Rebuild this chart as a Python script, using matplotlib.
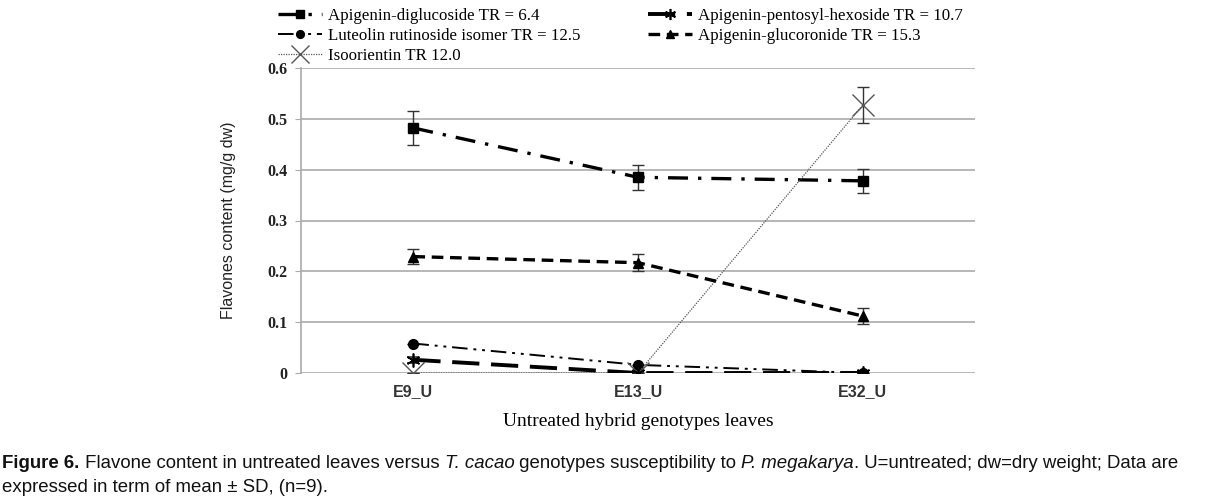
import matplotlib.pyplot as plt
from matplotlib.lines import Line2D
import numpy as np

# genotypy (kategorie na ose x)
genotypes = ["E9_U", "E13_U", "E32_U"]

# průměry a směrodatné odchylky (mg/g dw)
diglucoside = [0.482, 0.385, 0.378]
diglucoside_sd = [0.033, 0.025, 0.024]
pentosyl = [0.026, 0.0, 0.0]
pentosyl_sd = [0.006, 0.0, 0.0]
luteolin = [0.058, 0.016, 0.0]
luteolin_sd = [0.0, 0.0, 0.0]
glucoronide = [0.229, 0.217, 0.112]
glucoronide_sd = [0.015, 0.017, 0.015]
isoorientin = [0.0, 0.0, 0.527]
isoorientin_sd = [0.0, 0.0, 0.035]

yticks = [0, 0.1, 0.2, 0.3, 0.4, 0.5, 0.6]

serif = ["Liberation Serif", "DejaVu Serif"]
sans = ["Liberation Sans", "DejaVu Sans"]

# styly jednotlivých sérií
styles = {
    "dig": dict(color="black", lw=2.4, ls=(0, (6, 3, 1, 3)), marker="s", ms=7),
    "lut": dict(color="black", lw=1.4, ls=(0, (8, 3, 1.5, 3, 1.5, 3)), marker="o", ms=7),
    "iso": dict(color="#555555", lw=0.9, ls=(0, (1, 1)), marker="x", ms=16, mew=1.0),
    "pen": dict(color="black", lw=2.8, ls=(0, (7, 3)), marker=(6, 2, 0), ms=10, mew=1.2),
    "glu": dict(color="black", lw=2.4, ls=(0, (3.5, 2)), marker="^", ms=7),
}

fig = plt.figure(figsize=(12.09, 5.0), dpi=100)
ax = fig.add_axes([0.249, 0.254, 0.5575, 0.61])

x = np.arange(len(genotypes))
err_kw = dict(ecolor="#333333", elinewidth=1.0, capsize=4, capthick=1.0)

ax.errorbar(x, diglucoside, yerr=diglucoside_sd, **styles["dig"], **err_kw)
ax.errorbar(x, luteolin, yerr=luteolin_sd, **styles["lut"], **err_kw)
ax.errorbar(x, isoorientin, yerr=isoorientin_sd, **styles["iso"], **err_kw)
ax.errorbar(x, pentosyl, yerr=pentosyl_sd, **styles["pen"], **err_kw)
ax.errorbar(x, glucoronide, yerr=glucoronide_sd, **styles["glu"], **err_kw)

ax.set_xlim(-0.5, 2.5)
ax.set_ylim(0, 0.6)
ax.set_yticks(yticks)
ax.set_yticklabels(["0", "0.1", "0.2", "0.3", "0.4", "0.5", "0.6"],
                   family=serif, fontsize=11.5, fontweight="bold", color="#222222")
ax.set_xticks(x)
ax.set_xticklabels(genotypes, family=sans, fontsize=11.5, fontweight="bold", color="#333333")
ax.grid(axis="y", color="#aaaaaa", lw=1.2)
ax.set_axisbelow(True)
for s in ["top", "right", "bottom"]:
    ax.spines[s].set_visible(False)
ax.spines["left"].set_color("#aaaaaa")
ax.spines["left"].set_linewidth(1.2)
ax.tick_params(axis="y", length=4, color="#aaaaaa", pad=6)
ax.tick_params(axis="x", length=0, pad=8)

ax.set_ylabel("Flavones content (mg/g dw)", family=sans, fontsize=11.5, labelpad=22,
              color="#222222")
ax.set_xlabel("Untreated hybrid genotypes leaves", family=serif, fontsize=14, labelpad=10)

# legenda nad grafem ve dvou sloupcích
order = ["dig", "lut", "iso", "pen", "glu"]
handles = []
for k in order:
    st = dict(styles[k])
    st["ms"] = st["ms"] * 0.8
    handles.append(Line2D([], [], **st))
labels = ["Apigenin-diglucoside TR = 6.4",
          "Luteolin rutinoside isomer TR = 12.5",
          "Isoorientin TR 12.0",
          "Apigenin-pentosyl-hexoside TR = 10.7",
          "Apigenin-glucoronide TR = 15.3"]
fig.legend(handles, labels, ncol=2, loc="upper left", bbox_to_anchor=(0.217, 1.014),
           frameon=False, prop={"family": serif, "size": 12.2}, handlelength=2.6,
           handletextpad=0.35, columnspacing=4.0, labelspacing=0.22)

# popisek obrázku
cap_size = 13.4
pieces = [("Figure 6.", "bold", "normal"),
          (" Flavone content in untreated leaves versus ", "normal", "normal"),
          ("T. cacao", "normal", "italic"),
          (" genotypes susceptibility to ", "normal", "normal"),
          ("P. megakarya", "normal", "italic"),
          (". U=untreated; dw=dry weight; Data are", "normal", "normal")]
prev = None
for txt, w, st in pieces:
    if prev is None:
        prev = fig.text(0.002, 0.055, txt, family=sans, fontsize=cap_size, fontweight=w,
                        style=st, va="bottom", color="#111111")
    else:
        prev = ax.annotate(txt, xy=(1, 0), xycoords=prev, va="bottom", ha="left",
                           family=sans, fontsize=cap_size, fontweight=w, style=st,
                           annotation_clip=False, color="#111111")
fig.text(0.002, 0.008, "expressed in term of mean \u00b1 SD, (n=9).", family=sans,
         fontsize=cap_size, va="bottom", color="#111111")

plt.savefig("out.png", dpi=100)
